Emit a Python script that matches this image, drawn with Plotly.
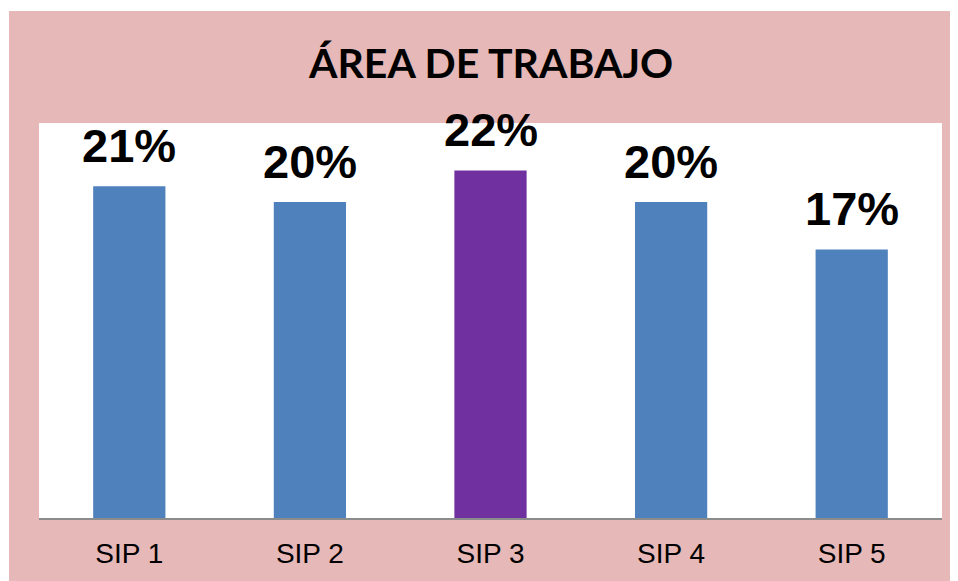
import plotly.graph_objects as go

categories = ["SIP 1", "SIP 2", "SIP 3", "SIP 4", "SIP 5"]
values = [0.21, 0.20, 0.22, 0.20, 0.17]
labels = ["21%", "20%", "22%", "20%", "17%"]
bar_colors = ["#4F81BD", "#4F81BD", "#7030A0", "#4F81BD", "#4F81BD"]
title_text = "ÁREA DE TRABAJO"

W, H = 958, 581
L, R, T, B = 31, 24, 115, 71
pw, ph = W - L - R, H - T - B

fig = go.Figure()
fig.add_trace(go.Bar(x=categories, y=values, marker=dict(color=bar_colors, line=dict(width=0)),
                     hoverinfo="skip"))

for c, v, t in zip(categories, values, labels):
    fig.add_annotation(x=c, y=v, text=t, showarrow=False, yanchor="bottom", yshift=12,
                       font=dict(family="Liberation Sans, Arial", size=47, color="black", weight="bold"))

fig.add_annotation(xref="paper", yref="paper", x=(482 - L) / pw, y=(H - B - 54) / ph,
                   text=title_text, showarrow=False, xanchor="center", yanchor="middle",
                   font=dict(family="Lato, Liberation Sans", size=41, color="black", weight="bold"))

# thin white strips outside the pink frame (top and left)
fig.add_shape(type="rect", xref="paper", yref="paper", layer="above",
              x0=-0.1, x1=1.1, y0=(H - B - 3) / ph, y1=(H - B + 5) / ph,
              fillcolor="white", line=dict(width=0))
fig.add_shape(type="rect", xref="paper", yref="paper", layer="above",
              x0=(-L - 5) / pw, x1=(1 - L) / pw, y0=-0.3, y1=1.4,
              fillcolor="white", line=dict(width=0))

fig.update_layout(
    width=W, height=H,
    margin=dict(l=L, r=R, t=T, b=B, pad=0),
    paper_bgcolor="#E6B8B7",
    plot_bgcolor="white",
    bargap=0.6,
    showlegend=False,
    xaxis=dict(showline=True, linecolor="#8C8C8C", linewidth=2,
               ticks="outside", ticklen=9, tickcolor="rgba(0,0,0,0)",
               tickfont=dict(family="Liberation Sans, Arial", size=28, color="black"),
               showgrid=False, fixedrange=True),
    yaxis=dict(range=[0, 0.25], visible=False, showgrid=False, fixedrange=True),
)

fig.write_html("out.html")
